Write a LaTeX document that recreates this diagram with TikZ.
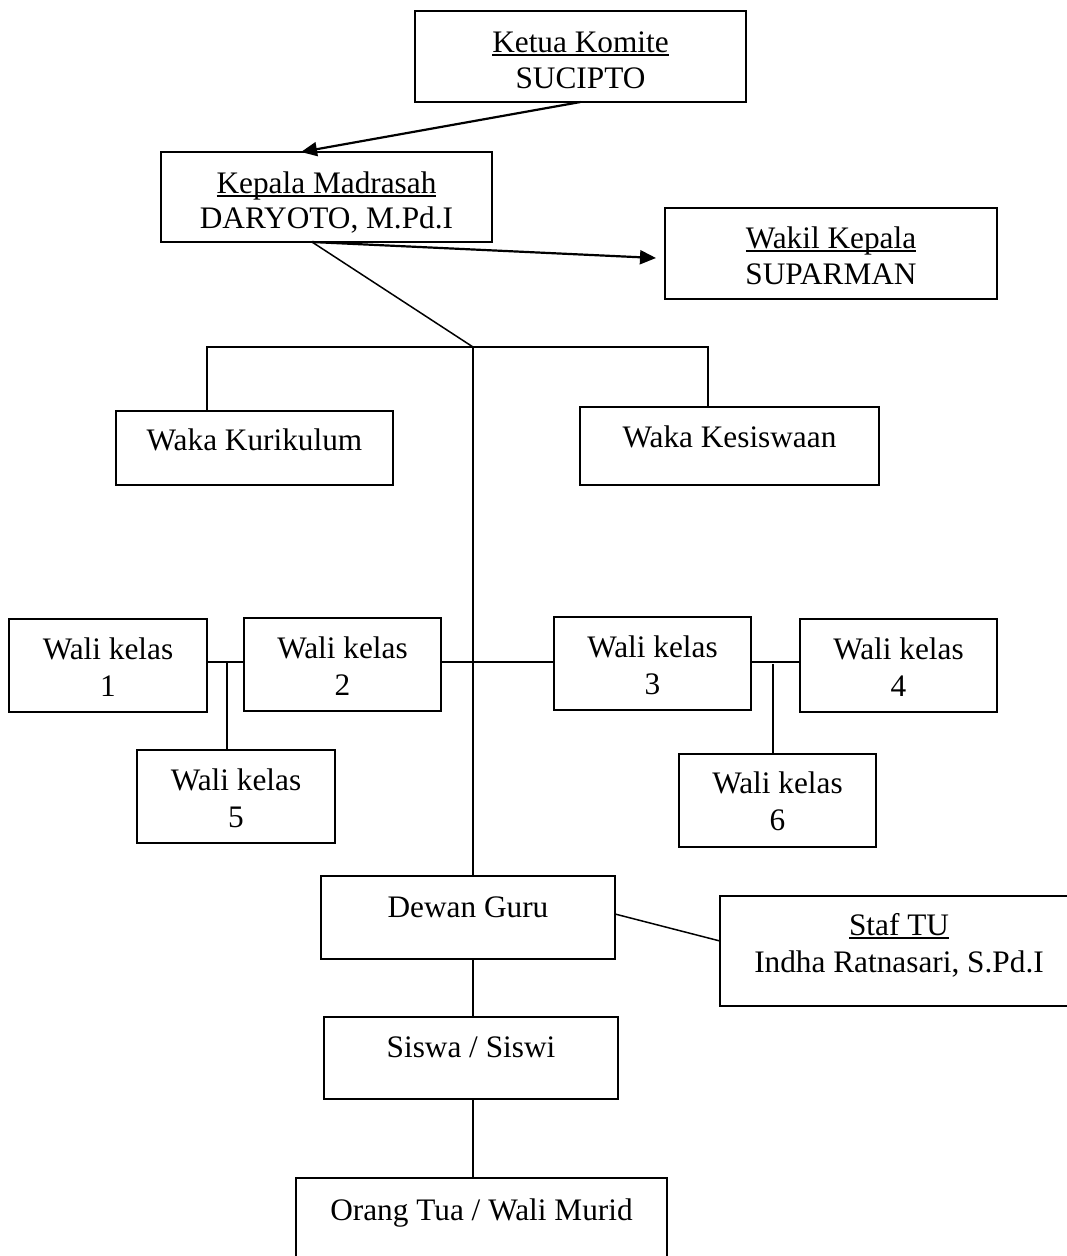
\documentclass[tikz,border=0pt]{standalone}
\usepackage{fontspec}
\setmainfont{Liberation Serif}
\usetikzlibrary{arrows.meta,fit,calc}
\newcommand\ulx[1]{\setbox0=\hbox{#1}\rlap{\rule[-3.5pt]{\wd0}{1.6pt}}\box0}
\begin{document}
\begin{tikzpicture}[x=1pt,y=-1pt,
  box/.style={draw=black, line width=1.6pt, inner sep=0pt, outer sep=0pt, fill=none},
  txt/.style={inner sep=0pt, anchor=base, font=\fontsize{31.3}{36}\selectfont},
  conn/.style={draw=black, line width=1.5pt},
  arr/.style={draw=black, line width=2.2pt, -{Triangle[length=16pt,width=14pt]}}]
\useasboundingbox (0,0) rectangle (1067,1256);
% boxes
\node[box, fit={(415,11) (746,102)}] (ketua) {};
\node[box, fit={(161,152) (492,242)}] (kepala) {};
\node[box, fit={(665,208) (997,299)}] (wakil) {};
\node[box, fit={(116,411) (393,485)}] (kurik) {};
\node[box, fit={(580,407) (879,485)}] (kesis) {};
\node[box, fit={(9,619) (207,712)}] (w1) {};
\node[box, fit={(244,618) (441,711)}] (w2) {};
\node[box, fit={(554,617) (751,710)}] (w3) {};
\node[box, fit={(800,619) (997,712)}] (w4) {};
\node[box, fit={(137,750) (335,843)}] (w5) {};
\node[box, fit={(679,754) (876,847)}] (w6) {};
\node[box, fit={(321,876) (615,959)}] (dewan) {};
\node[box, fit={(720,896) (1078,1006)}] (staf) {};
\node[box, fit={(324,1017) (618,1099)}] (siswa) {};
\node[box, fit={(296,1178) (667,1268)}] (ortu) {};
% texts
\node[txt] (t1) at (580.5,52) {\ulx{Ketua Komite}};
\node[txt] (t2) at (580.5,88) {SUCIPTO};
\node[txt] (t3) at (326.5,193) {\ulx{Kepala Madrasah}};
\node[txt] (t4) at (326.5,228) {DARYOTO, M.Pd.I};
\node[txt] (t5) at (831,248) {\ulx{Wakil Kepala}};
\node[txt] (t6) at (831,284) {SUPARMAN};
\node[txt] (t7) at (254.5,450) {Waka Kurikulum};
\node[txt] (t8) at (729.5,447) {Waka Kesiswaan};
\node[txt] (t9) at (108,659) {Wali kelas};
\node[txt] (t10) at (108,696) {1};
\node[txt] (t11) at (342.5,658) {Wali kelas};
\node[txt] (t12) at (342.5,695) {2};
\node[txt] (t13) at (652.5,657) {Wali kelas};
\node[txt] (t14) at (652.5,694) {3};
\node[txt] (t15) at (898.5,659) {Wali kelas};
\node[txt] (t16) at (898.5,696) {4};
\node[txt] (t17) at (236,790) {Wali kelas};
\node[txt] (t18) at (236,827) {5};
\node[txt] (t19) at (777.5,793) {Wali kelas};
\node[txt] (t20) at (777.5,830) {6};
\node[txt] (t21) at (468,917) {Dewan Guru};
\node[txt] (t22) at (899,935) {\ulx{Staf TU}};
\node[txt] (t23) at (899,972) {Indha Ratnasari, S.Pd.I};
\node[txt] (t24) at (471,1057) {Siswa / Siswi};
\node[txt] (t25) at (481.5,1220) {Orang Tua / Wali Murid};
% junctions
\coordinate (j) at (473,347);
\coordinate (r) at (473,662);
\coordinate (a) at (227,662);
\coordinate (b) at (773,664);
% connectors
\draw[arr] (ketua.south) -- ([xshift=-25.5pt]kepala.north);
\draw[arr] ([xshift=-14.5pt]kepala.south) -- ([xshift=-9pt,yshift=-4.5pt]wakil.west);
\draw[conn] ([xshift=-14.5pt]kepala.south) -- (j);
\draw[conn] ([xshift=-47.5pt]kurik.north) |- (j) -| ([xshift=-21.5pt]kesis.north);
\draw[conn] (j) -- (j |- dewan.north);
\draw[conn] (r -| w2.east) -- (r -| w3.west);
\draw[conn] (r -| w1.east) -- (r -| w2.west);
\draw[conn] (a) -- (a |- w5.north);
\draw[conn] (r -| w3.east) -- (r -| w4.west);
\draw[conn] (b) -- (b |- w6.north);
\draw[conn] ([yshift=3.5pt]dewan.east) -- ([yshift=10pt]staf.west);
\draw[conn] (j |- dewan.south) -- (j |- siswa.north);
\draw[conn] (j |- siswa.south) -- (j |- ortu.north);
\end{tikzpicture}
\end{document}
